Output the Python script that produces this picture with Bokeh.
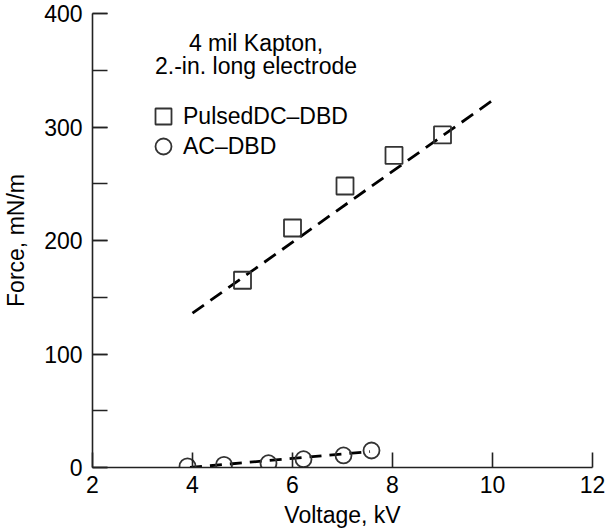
from bokeh.plotting import figure
from bokeh.models import Range1d, SingleIntervalTicker, FixedTicker, Legend, LegendItem, Label
from bokeh.embed import file_html
from bokeh.resources import INLINE

# Data
pulsed_v = [5.0, 6.0, 7.05, 8.03, 9.0]
pulsed_f = [165, 211, 248, 275, 293]
ac_v = [3.9, 4.63, 5.52, 6.22, 7.02, 7.58]
ac_f = [1, 2.4, 3.8, 7.3, 10.6, 15]
pulsed_fit_v = [4.0, 10.05]
pulsed_fit_f = [136, 325]
ac_fit_v = [3.95, 7.55]
ac_fit_f = [0, 14]
x_ticks = [2, 4, 6, 8, 10, 12]
note_lines = ["4 mil Kapton,", "2.-in. long electrode"]
series_names = ["PulsedDC\u2013DBD", "AC\u2013DBD"]

FONT = "Liberation Sans"
FS = "23px"
INK = "#222222"

p = figure(width=607, height=532, output_backend="svg", toolbar_location=None,
           x_range=Range1d(2, 12), y_range=Range1d(0, 400),
           min_border_left=91, min_border_right=15, min_border_top=13, min_border_bottom=65)
p.outline_line_color = None
p.xgrid.visible = False
p.ygrid.visible = False
p.background_fill_color = "white"
p.border_fill_color = "white"

p.xaxis.ticker = FixedTicker(ticks=x_ticks)
p.yaxis.ticker = SingleIntervalTicker(interval=100, num_minor_ticks=2)
for ax in (p.xaxis[0], p.yaxis[0]):
    ax.major_tick_in = 15
    ax.major_tick_out = 0
    ax.minor_tick_in = 15
    ax.minor_tick_out = 0
    ax.axis_line_color = INK
    ax.axis_line_width = 1.6
    ax.major_tick_line_color = INK
    ax.major_tick_line_width = 1.6
    ax.minor_tick_line_color = INK
    ax.minor_tick_line_width = 1.6
    ax.major_label_text_font = FONT
    ax.major_label_text_font_size = FS
    ax.major_label_text_color = "black"
    ax.axis_label_text_font = FONT
    ax.axis_label_text_font_size = FS
    ax.axis_label_text_font_style = "normal"
    ax.axis_label_text_color = "black"
p.xaxis.minor_tick_line_color = None
p.xaxis.major_label_standoff = 8
p.yaxis.major_label_standoff = 10
p.xaxis.axis_label = "Voltage, kV"
p.yaxis.axis_label = "Force, mN/m"
p.xaxis.axis_label_standoff = 6
p.yaxis.axis_label_standoff = 12

p.line(pulsed_fit_v, pulsed_fit_f, line_color="black", line_width=2.8, line_dash="14 8")
p.line(ac_fit_v, ac_fit_f, line_color="black", line_width=2.8, line_dash="12 8")

sq = p.scatter(pulsed_v, pulsed_f, marker="square", size=17, fill_color=None,
               line_color="#333333", line_width=1.8)
ci = p.scatter(ac_v, ac_f, marker="circle", size=16, fill_color=None,
               line_color="#333333", line_width=1.8)

for name, r, loc in zip(series_names, [sq, ci], [(51, 331), (51, 301)]):
    lg = Legend(items=[LegendItem(label=name, renderers=[r])],
                location=loc, orientation="vertical",
                glyph_width=40, glyph_height=40, spacing=0, label_standoff=0,
                padding=0, margin=0, border_line_color=None, background_fill_alpha=0,
                label_text_font=FONT, label_text_font_size=FS, label_text_color="black")
    p.add_layout(lg)

for i, t in enumerate(note_lines):
    p.add_layout(Label(x=5.27, y=374 - 20 * i, text=t, text_align="center",
                       text_baseline="middle", text_font=FONT, text_font_size=FS,
                       text_color="black"))

open("out.html", "w").write(file_html(p, INLINE))
